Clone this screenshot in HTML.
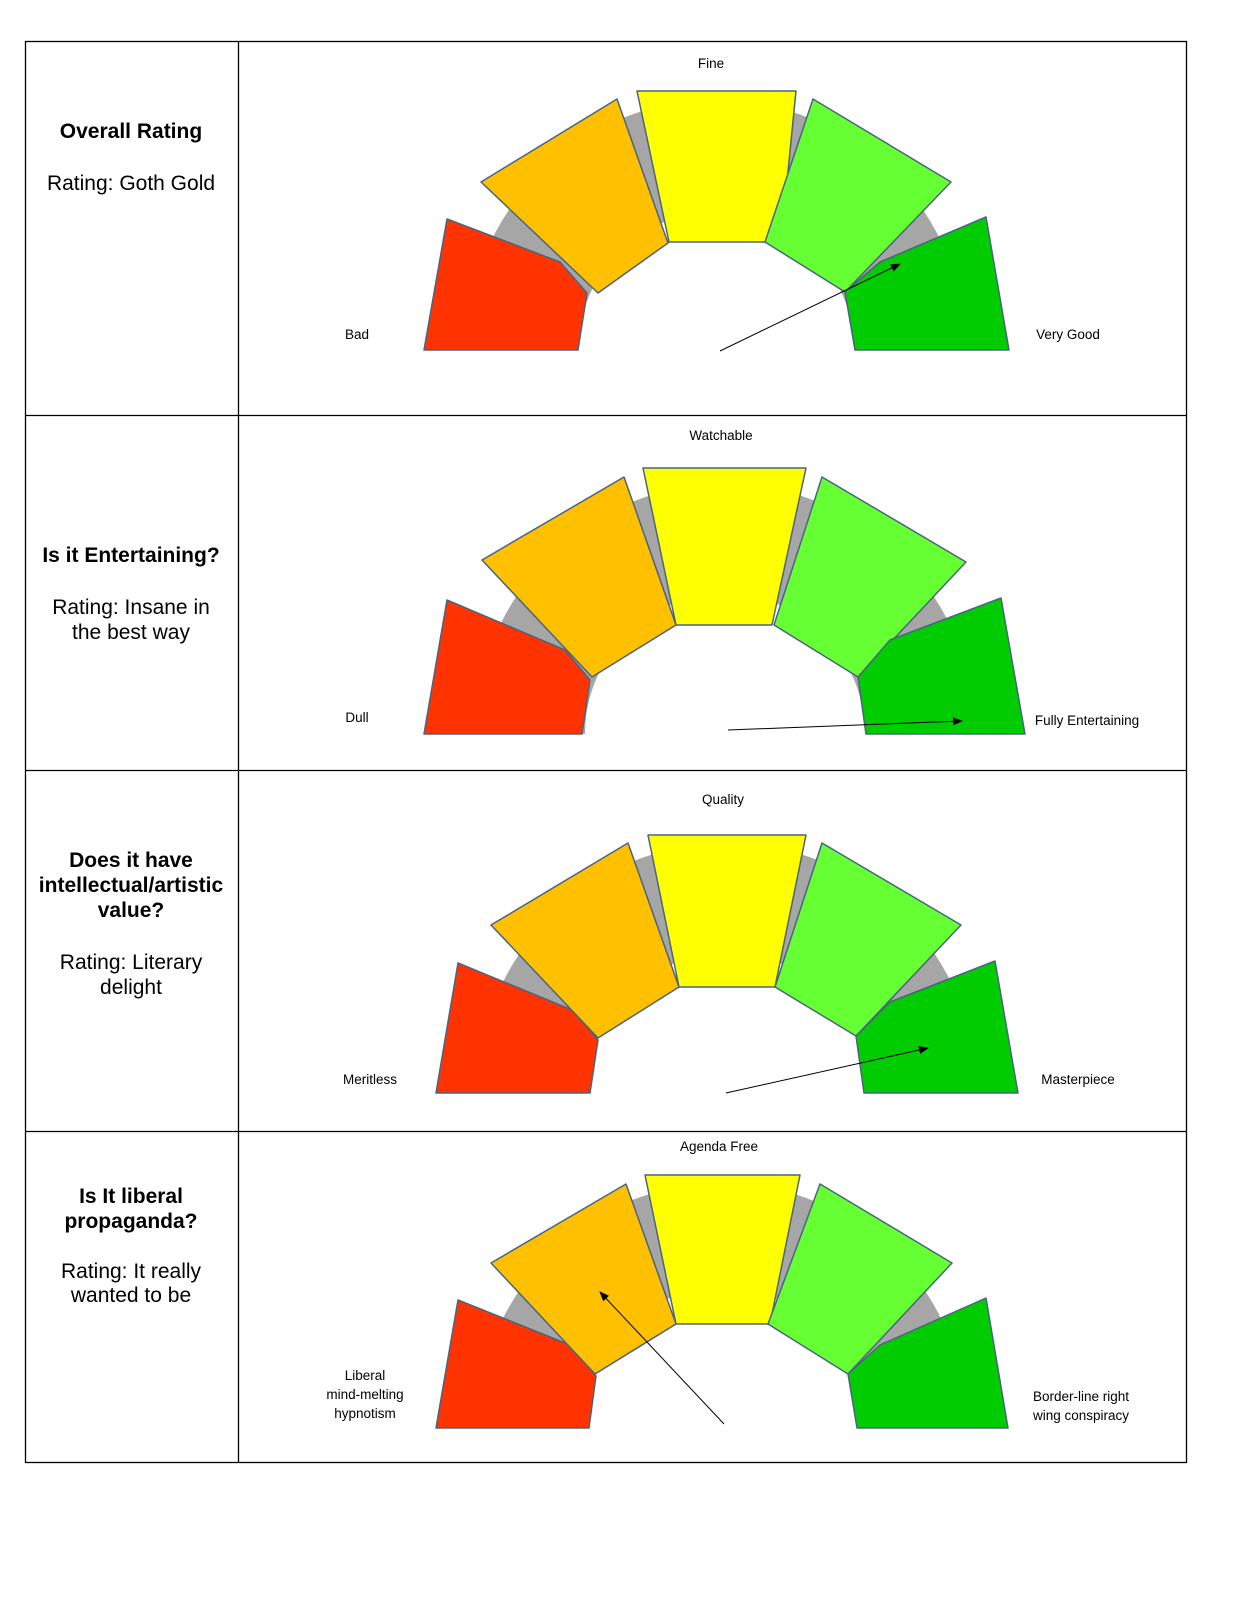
<!DOCTYPE html>
<html><head><style>
html,body{margin:0;padding:0;background:#fff;overflow:hidden;width:1237px;height:1600px;}
svg{display:block;position:absolute;left:0;top:0;}
.l{font-family:"Liberation Sans",sans-serif;font-size:21px;fill:#000;text-anchor:middle;}
.b{font-weight:bold;}
.g{font-family:"Liberation Sans",sans-serif;font-size:13.5px;fill:#000;text-anchor:middle;}
polygon{stroke:#4a6480;stroke-width:1.5;stroke-linejoin:round;}
.gr{fill:#a6a6a6;}
</style></head><body>
<svg width="1237" height="1600" viewBox="0 0 1237 1600">
<defs><marker id="ah" markerWidth="10" markerHeight="8" refX="9" refY="4" orient="auto" markerUnits="userSpaceOnUse"><path d="M0,0 L10,4 L0,8 Z" fill="#000"/></marker></defs>
<rect x="25.5" y="41.5" width="1161" height="1421" fill="none" stroke="#000" stroke-width="1.3"/>
<line x1="238.5" y1="41" x2="238.5" y2="1463" stroke="#000" stroke-width="1.3"/>
<line x1="25" y1="415.5" x2="1187" y2="415.5" stroke="#000" stroke-width="1.3"/>
<line x1="25" y1="770.5" x2="1187" y2="770.5" stroke="#000" stroke-width="1.3"/>
<line x1="25" y1="1131.5" x2="1187" y2="1131.5" stroke="#000" stroke-width="1.3"/>

<text class="l b" x="131" y="138">Overall Rating</text>
<text class="l" x="131" y="190">Rating: Goth Gold</text>
<text class="l b" x="131" y="562">Is it Entertaining?</text>
<text class="l" x="131" y="614">Rating: Insane in</text>
<text class="l" x="131" y="639">the best way</text>
<text class="l b" x="131" y="867">Does it have</text>
<text class="l b" x="131" y="892">intellectual/artistic</text>
<text class="l b" x="131" y="917">value?</text>
<text class="l" x="131" y="969">Rating:  Literary</text>
<text class="l" x="131" y="994">delight</text>
<text class="l b" x="131" y="1203">Is It liberal</text>
<text class="l b" x="131" y="1228">propaganda?</text>
<text class="l" x="131" y="1278">Rating: It really</text>
<text class="l" x="131" y="1302">wanted to be</text>

<!-- Gauge 1 -->
<path class="gr" d="M466,350 A250,250 0 0 1 966,350 L854,350 A138,138 0 0 0 578,350 Z"/>
<polygon fill="#ff3300" points="447,219 424,350 578,350 587,293 560,262"/>
<polygon fill="#ffc000" points="481,182 617,99 668,243 598,293"/>
<polygon fill="#ffff00" points="637,91 796,91 781,242 669,242"/>
<polygon fill="#66ff33" points="813,99 951,182 845,292 765,242"/>
<polygon fill="#00cc00" points="845,292 880,262 986,217 1009,350 855,350"/>
<line x1="720" y1="351" x2="900" y2="264" stroke="#000" stroke-width="1" marker-end="url(#ah)"/>
<text class="g" x="711" y="68">Fine</text>
<text class="g" x="357" y="339">Bad</text>
<text class="g" x="1068" y="339">Very Good</text>

<!-- Gauge 2 -->
<path class="gr" d="M475,734 A250,250 0 0 1 975,734 L865,734 A140,140 0 0 0 585,734 Z"/>
<polygon fill="#ff3300" points="447,600 424,734 582,734 590,680 565,650"/>
<polygon fill="#ffc000" points="482,560 624,477 676,625 592,677"/>
<polygon fill="#ffff00" points="643,468 806,468 772,625 676,625"/>
<polygon fill="#66ff33" points="822,477 966,562 858,677 774,625"/>
<polygon fill="#00cc00" points="858,677 890,640 1001,598 1025,734 866,734"/>
<line x1="728" y1="730" x2="962" y2="721" stroke="#000" stroke-width="1" marker-end="url(#ah)"/>
<text class="g" x="721" y="440">Watchable</text>
<text class="g" x="357" y="722">Dull</text>
<text class="g" x="1087" y="725">Fully Entertaining</text>

<!-- Gauge 3 -->
<path class="gr" d="M477,1093 A250,250 0 0 1 977,1093 L867,1093 A140,140 0 0 0 587,1093 Z"/>
<polygon fill="#ff3300" points="458,963 436,1093 590,1093 598,1040 572,1010"/>
<polygon fill="#ffc000" points="491,925 628,843 679,987 598,1038"/>
<polygon fill="#ffff00" points="648,835 806,835 775,987 679,987"/>
<polygon fill="#66ff33" points="822,843 961,925 856,1036 775,987"/>
<polygon fill="#00cc00" points="856,1036 890,1002 995,961 1018,1093 864,1093"/>
<line x1="726" y1="1093" x2="928" y2="1048" stroke="#000" stroke-width="1" marker-end="url(#ah)"/>
<text class="g" x="723" y="804">Quality</text>
<text class="g" x="370" y="1084">Meritless</text>
<text class="g" x="1078" y="1084">Masterpiece</text>

<!-- Gauge 4 -->
<path class="gr" d="M477,1428 A245,245 0 0 1 967,1428 L862,1428 A140,140 0 0 0 582,1428 Z"/>
<polygon fill="#ff3300" points="458,1300 436,1428 589,1428 596,1376 570,1345"/>
<polygon fill="#ffc000" points="491,1263 626,1184 676,1324 595,1374"/>
<polygon fill="#ffff00" points="645,1175 800,1175 770,1324 676,1324"/>
<polygon fill="#66ff33" points="820,1184 952,1263 848,1374 768,1324"/>
<polygon fill="#00cc00" points="848,1374 880,1345 986,1298 1008,1428 857,1428"/>
<line x1="724" y1="1424" x2="600" y2="1292" stroke="#000" stroke-width="1" marker-end="url(#ah)"/>
<text class="g" x="719" y="1151">Agenda Free</text>
<text class="g" x="365" y="1380">Liberal</text>
<text class="g" x="365" y="1399">mind-melting</text>
<text class="g" x="365" y="1418">hypnotism</text>
<text class="g" x="1081" y="1401">Border-line right</text>
<text class="g" x="1081" y="1420">wing conspiracy</text>
</svg>
</body></html>
